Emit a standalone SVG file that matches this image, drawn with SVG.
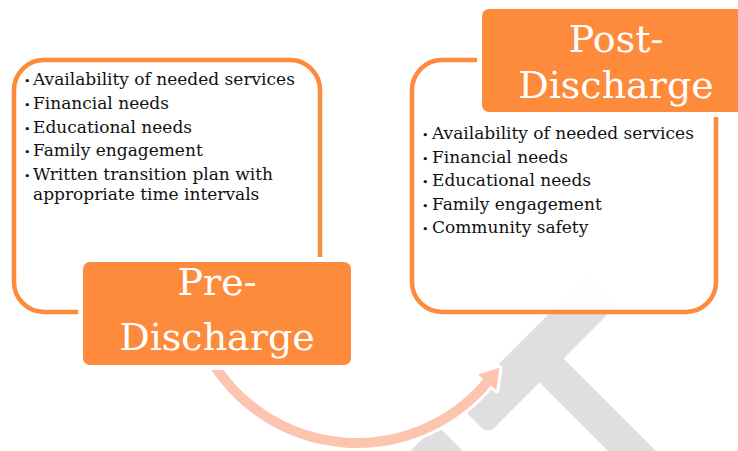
<svg xmlns="http://www.w3.org/2000/svg" width="738" height="451" viewBox="0 0 738 451">
<style>
.outline{fill:#ffffff;stroke:#FE8A3B;stroke-width:4.5}
.title{fill:#FE8A3B}
.gap{fill:#ffffff}
.ttl{font-family:"DejaVu Serif","Liberation Serif",serif;font-size:38px;fill:#ffffff;text-anchor:middle}
.item{font-family:"DejaVu Serif","Liberation Serif",serif;font-size:17px;fill:#111111}
.bul{font-size:11px}
.gavel{fill:#DFDFDF}
</style>
<rect width="738" height="451" fill="#ffffff"/>
<g id="gavel">
  <g transform="rotate(-45)">
    <rect class="gavel" x="38" y="610" width="183" height="42" rx="8"/>
    <rect class="gavel" x="111" y="640" width="34" height="320"/>
    <rect class="gavel" x="-80" y="609" width="88.5" height="80" rx="8"/>
  </g>
</g>
<g id="pre-discharge-list">
  <rect class="outline" x="14" y="60" width="306" height="252" rx="30"/>
  <text class="item" x="24" y="85"><tspan class="bul">•</tspan><tspan x="33">Availability of needed services</tspan></text>
  <text class="item" x="24" y="108.5"><tspan class="bul">•</tspan><tspan x="33">Financial needs</tspan></text>
  <text class="item" x="24" y="132.5"><tspan class="bul">•</tspan><tspan x="33">Educational needs</tspan></text>
  <text class="item" x="24" y="156"><tspan class="bul">•</tspan><tspan x="33">Family engagement</tspan></text>
  <text class="item" x="24" y="179.5"><tspan class="bul">•</tspan><tspan x="33">Written transition plan with</tspan></text>
  <text class="item" x="33" y="199.5">appropriate time intervals</text>
</g>
<g id="post-discharge-list">
  <rect class="outline" x="412" y="60" width="304" height="252" rx="30" fill-opacity="0.93" style="fill-opacity:0.93"/>
  <text class="item" x="422" y="139"><tspan class="bul">•</tspan><tspan x="432">Availability of needed services</tspan></text>
  <text class="item" x="422" y="162.5"><tspan class="bul">•</tspan><tspan x="432">Financial needs</tspan></text>
  <text class="item" x="422" y="186"><tspan class="bul">•</tspan><tspan x="432">Educational needs</tspan></text>
  <text class="item" x="422" y="209.5"><tspan class="bul">•</tspan><tspan x="432">Family engagement</tspan></text>
  <text class="item" x="422" y="233"><tspan class="bul">•</tspan><tspan x="432">Community safety</tspan></text>
</g>
<g id="connectors">
  <path d="M 211 360 A 170 170 0 0 0 487.2 382.3" fill="none" stroke="#ffffff" stroke-width="16"/>
  <polygon points="499.4,367.7 496.4,390 478,374.6" fill="#ffffff" stroke="#ffffff" stroke-width="6" stroke-linejoin="round"/>
  <path d="M 211 360 A 170 170 0 0 0 487.2 382.3" fill="none" stroke="#FDC4AF" stroke-width="10"/>
  <polygon points="499.4,367.7 496.4,390 478,374.6" fill="#FDC4AF"/>
</g>
<g id="pre-discharge">
  <rect class="gap" x="78" y="257" width="278" height="113" rx="10"/>
  <rect class="title" x="83" y="262" width="268" height="103" rx="7"/>
  <text class="ttl" x="217" y="295">Pre-</text>
  <text class="ttl" x="217" y="350">Discharge</text>
</g>
<g id="post-discharge">
  <rect class="gap" x="477" y="4" width="275" height="113" rx="10"/>
  <rect class="title" x="482" y="9" width="265" height="103" rx="7"/>
  <text class="ttl" x="616" y="52">Post-</text>
  <text class="ttl" x="616" y="98">Discharge</text>
</g>
</svg>
